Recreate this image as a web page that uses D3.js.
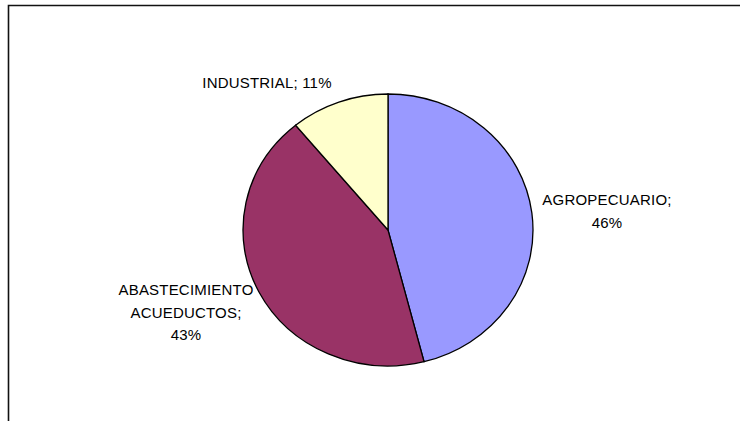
<!DOCTYPE html>
<html><head><meta charset="utf-8">
<script src="https://cdn.jsdelivr.net/npm/d3@7"></script>
<style>html,body{margin:0;padding:0;background:#fff;overflow:hidden}</style>
</head><body>
<script>
const categories = ["AGROPECUARIO", "ABASTECIMIENTO ACUEDUCTOS", "INDUSTRIAL"];
const values = [46, 43, 11];
const labelLines = [["AGROPECUARIO;", "46%"], ["ABASTECIMIENTO", "ACUEDUCTOS;", "43%"], ["INDUSTRIAL; 11%"]];
const colors = ["#9999FF", "#993366", "#FFFFCC"];

const W = 740, H = 421;
const svg = d3.select("body").append("svg").attr("width", W).attr("height", H);

// frame (extends beyond the window on right and bottom)
svg.append("path")
  .attr("d", `M8.5,${H+5} L8.5,5.5 L${W+5},5.5`)
  .attr("fill", "none").attr("stroke", "#111").attr("stroke-width", 1.6);

const cx = 388, cy = 230, rx = 145, ry = 136;
const pie = d3.pie().sort(null).value(d => d)(values);
const arc = d3.arc().innerRadius(0).outerRadius(ry);

const g = svg.append("g").attr("transform", `translate(${cx},${cy}) scale(${rx/ry},1)`);
g.selectAll("path").data(pie).join("path")
  .attr("d", arc)
  .attr("fill", (d, i) => colors[i])
  .attr("stroke", "#000")
  .attr("stroke-width", 1.3)
  .attr("vector-effect", "non-scaling-stroke");

const labelPos = [
  {x: 607, y: 205},
  {x: 186, y: 295},
  {x: 267, y: 88}
];
const lh = 22.5;
labelLines.forEach((lines, i) => {
  const t = svg.append("text")
    .attr("font-family", "'Liberation Sans', Arial, sans-serif")
    .attr("font-size", 15)
    .attr("letter-spacing", "0.2px")
    .attr("fill", "#000")
    .attr("text-anchor", "middle");
  lines.forEach((s, j) => {
    t.append("tspan").attr("x", labelPos[i].x).attr("y", labelPos[i].y + j * lh).text(s);
  });
});
</script>
</body></html>
